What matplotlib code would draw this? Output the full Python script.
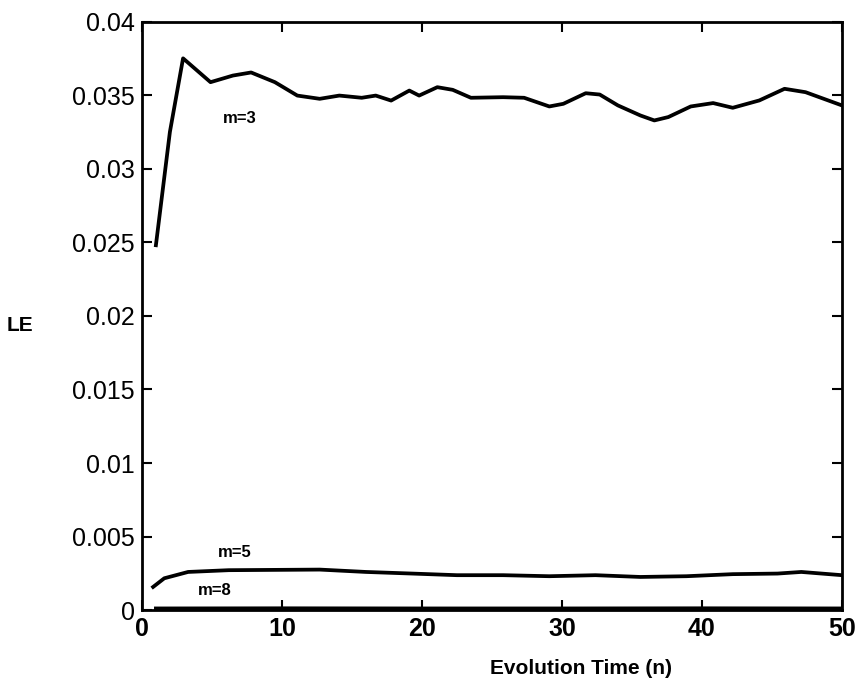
import numpy as np
import matplotlib
matplotlib.use('Agg')
from matplotlib import pyplot as plt

plt.rcParams['font.family'] = ['Liberation Sans', 'DejaVu Sans']

# m=3 series
t3 = [1, 2, 2.94, 4.9, 6.5, 7.8, 9.5, 11.1, 12.7, 14.1, 15.7, 16.7, 17.8, 19.1,
      19.8, 21.1, 22.2, 23.5, 25.8, 27.3, 29.1, 30.1, 31.7, 32.7, 34.0, 35.6,
      36.6, 37.6, 39.2, 40.8, 42.2, 44.1, 45.9, 47.4, 48.7, 50]
le3 = [0.0248, 0.0325, 0.0375, 0.03588, 0.03633, 0.03654, 0.03588, 0.03497,
       0.03475, 0.03497, 0.03482, 0.03497, 0.03463, 0.03531, 0.03497, 0.03554,
       0.03536, 0.03482, 0.03486, 0.03482, 0.03423, 0.03441, 0.03513, 0.03504,
       0.03430, 0.03362, 0.03328, 0.03351, 0.03423, 0.03446, 0.03414, 0.03464,
       0.03543, 0.03520, 0.03475, 0.03430]

# m=5 series
t5 = [0.8, 1.6, 3.3, 6.2, 12.7, 16, 19.3, 22.5, 25.8, 29.1, 32.4, 35.6, 38.9,
      42.2, 45.4, 47.1, 50]
le5 = [0.00158, 0.00217, 0.0026, 0.00272, 0.00276, 0.0026, 0.00249, 0.00238,
       0.00238, 0.00231, 0.00238, 0.00226, 0.00231, 0.00245, 0.00249, 0.0026,
       0.00238]

# m=8 series (almost zero)
t8 = [1, 10, 20, 30, 40, 50]
le8 = [0.00012, 0.00013, 0.00012, 0.00012, 0.00013, 0.00012]

xticks = [0, 10, 20, 30, 40, 50]
yticks = [0, 0.005, 0.01, 0.015, 0.02, 0.025, 0.03, 0.035, 0.04]
yticklabels = ['0', '0.005', '0.01', '0.015', '0.02', '0.025', '0.03', '0.035', '0.04']

fig = plt.figure(figsize=(8.6, 6.95), dpi=100)
ax = fig.add_axes([0.165, 0.122, 0.814, 0.847])

ax.plot(t3, le3, color='black', lw=2.7)
ax.plot(t5, le5, color='black', lw=2.7)
ax.plot(t8, le8, color='black', lw=2.7)

ax.text(7.0, 0.0334, 'm=3', fontsize=12, fontweight='bold', ha='center', va='center')
ax.text(6.6, 0.0039, 'm=5', fontsize=12, fontweight='bold', ha='center', va='center')
ax.text(5.2, 0.00136, 'm=8', fontsize=12, fontweight='bold', ha='center', va='center')

ax.set_xlim(0, 50)
ax.set_ylim(0, 0.04)
ax.set_xticks(xticks)
ax.set_xticklabels([str(v) for v in xticks], fontsize=18, fontweight='bold')
ax.set_yticks(yticks)
ax.set_yticklabels(yticklabels, fontsize=18)
ax.tick_params(direction='in', top=True, right=True, length=7, width=1.5, pad=5)
for s in ax.spines.values():
    s.set_linewidth(2)

ax.set_xlabel('Evolution Time (n)', fontsize=15, fontweight='bold')
ax.xaxis.set_label_coords(0.627, -0.083)
ax.set_ylabel('LE', fontsize=15, fontweight='bold', rotation=0, ha='center', va='center')
ax.yaxis.set_label_coords(-0.174, 0.484)

plt.savefig('out.png', dpi=100)
